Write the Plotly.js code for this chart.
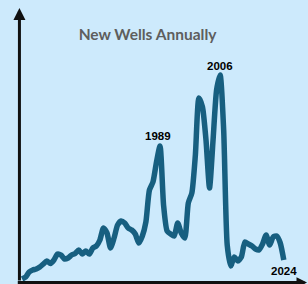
<!DOCTYPE html>
<html>
<head>
<meta charset="utf-8">
<script src="https://cdn.plot.ly/plotly-3.0.1.min.js"></script>
<style>
html,body{margin:0;padding:0;background:#cdeafc;}
#chart{width:308px;height:284px;}
</style>
</head>
<body>
<div id="chart"></div>
<script>
// Years 1950–2024
const years = [];
for (let y = 1950; y <= 2024; y++) years.push(y);

// New wells per year (thousands)
const newWells = [
  0.2, 0.6, 1.6, 2.0, 2.2, 2.6, 3.2, 3.8, 3.3, 4.0,
  5.2, 5.0, 4.2, 4.4, 5.0, 5.3, 6.0, 5.2, 5.8, 5.2,
  6.4, 6.8, 8.0, 10.4, 9.4, 6.4, 8.4, 11.0, 11.8, 11.4,
  10.4, 10.0, 9.2, 7.4, 8.8, 11.6, 18.0, 19.6, 23.6, 26.8,
  15.0, 9.8, 9.2, 8.8, 11.4, 9.4, 8.4, 15.4, 17.4, 25.0,
  36.4, 34.6, 28.0, 18.4, 28.0, 38.0, 41.0, 30.0, 7.0, 2.8,
  4.6, 3.8, 4.6, 7.6, 7.2, 6.8, 6.2, 6.0, 7.2, 9.0,
  7.0, 8.6, 8.8, 7.4, 4.0
];

const labelYears = [1989, 2006, 2024];
const labelShift = [[-2, 10.5], [0, 9], [0.5, -10.5]];
const titleText = "New Wells Annually";

const lineColor = "#175f80";
const bg = "#cdeafc";

const annotations = labelYears.map((yr, i) => ({
  x: yr, y: newWells[years.indexOf(yr)], xref: "x", yref: "y",
  text: "<b>" + yr + "</b>", showarrow: false,
  xshift: labelShift[i][0], yshift: labelShift[i][1],
  font: {family: "Liberation Sans, Arial, sans-serif", size: 11.5, color: "#000"}
}));

// axis arrows
annotations.push({
  xref: "paper", yref: "paper", x: -0.002, y: 1.0, ax: 0, ay: 274, axref: "pixel", ayref: "pixel",
  showarrow: true, arrowhead: 2, arrowsize: 0.8, arrowwidth: 3, arrowcolor: "#111", standoff: 0, text: ""
});
annotations.push({
  xref: "paper", yref: "paper", x: 1.008, y: -0.002, ax: -291, ay: 0, axref: "pixel", ayref: "pixel",
  showarrow: true, arrowhead: 2, arrowsize: 0.7, arrowwidth: 3, arrowcolor: "#111", standoff: 0, text: ""
});

const trace = {
  x: years, y: newWells, type: "scatter", mode: "lines",
  line: {color: lineColor, width: 5.5, shape: "spline", smoothing: 0.6},
  hoverinfo: "skip"
};

const layout = {
  width: 308, height: 284,
  paper_bgcolor: bg, plot_bgcolor: bg,
  margin: {l: 20, r: 3, t: 8, b: 2},
  showlegend: false,
  title: {
    text: "<b>" + titleText + "</b>", xref: "container", yref: "container",
    x: 0.479, y: 0.88, xanchor: "center", yanchor: "middle",
    font: {family: "Lato, sans-serif", size: 15.5, color: "#5e5e5e"}
  },
  xaxis: {range: [1949.4, 2030], showgrid: false, zeroline: false, showticklabels: false, ticks: "", showline: false, fixedrange: true},
  yaxis: {range: [-0.4, 54.4], showgrid: false, zeroline: false, showticklabels: false, ticks: "", showline: false, fixedrange: true},
  annotations: annotations
};

Plotly.newPlot("chart", [trace], layout, {displayModeBar: false, staticPlot: true});
</script>
</body>
</html>
